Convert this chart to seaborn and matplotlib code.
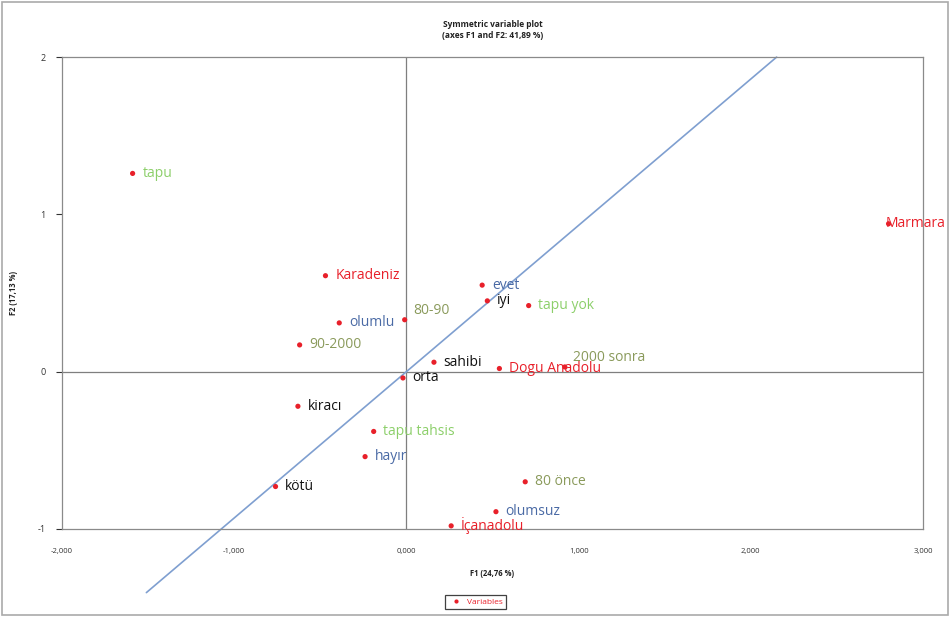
import matplotlib
matplotlib.use("Agg")
import matplotlib.pyplot as plt
import seaborn as sns
import numpy as np
import pandas as pd
from matplotlib.ticker import FuncFormatter, FixedLocator

# ---- data ----
labels = ["tapu", "Marmara", "Karadeniz", "evet", "iyi", "tapu yok", "olumlu", "80-90",
          "90-2000", "sahibi", "2000 sonra", "Dogu Anadolu", "orta", "kiracı",
          "tapu tahsis", "hayır", "kötü", "80 önce", "olumsuz", "İçanadolu"]
f1 = [-1.59, 2.80, -0.47, 0.44, 0.47, 0.71, -0.39, -0.01,
      -0.62, 0.16, 0.92, 0.54, -0.02, -0.63,
      -0.19, -0.24, -0.76, 0.69, 0.52, 0.26]
f2 = [1.26, 0.94, 0.61, 0.55, 0.45, 0.42, 0.31, 0.33,
      0.17, 0.06, 0.03, 0.02, -0.04, -0.22,
      -0.38, -0.54, -0.73, -0.70, -0.89, -0.98]
groups = ["tapu", "region", "region", "answer", "state", "tapu", "answer", "period",
          "period", "state", "period", "region", "state", "state",
          "tapu", "answer", "state", "period", "answer", "region"]
line_x = [-1.51, 2.15]
line_slope = 0.93
x_ticks = [-2, -1, 0, 1, 2, 3]
y_ticks = [-1, 0, 1, 2]
title = "Symmetric variable plot\n(axes F1 and F2: 41,89 %)"
xlabel = "F1 (24,76 %)"
ylabel = "F2 (17,13 %)"

# ---- style ----
group_colors = {"region": "#e8202a", "tapu": "#8ccf6a", "period": "#8a9a5b",
                "answer": "#4a6aa5", "state": "#111111"}
label_offsets = {"2000 sonra": (6, 7), "Marmara": (-2, 0), "80-90": (6, 7)}

sns.set_theme(style="white")
plt.rcParams["font.family"] = ["Open Sans", "DejaVu Sans"]

fig = plt.figure(figsize=(9.5, 6.17), dpi=100)
ax = fig.add_axes([62/950, 1-529/617, (923-62)/950, (529-57)/617])

df = pd.DataFrame({"F1": f1, "F2": f2, "label": labels, "group": groups})

ax.axhline(0, color="#7f7f7f", lw=0.9, zorder=1)
ax.axvline(0, color="#7f7f7f", lw=0.9, zorder=1)

lx = np.array(line_x)
ax.plot(lx, line_slope * lx, color="#7f9fd0", lw=1.2, clip_on=False, zorder=2)

sns.scatterplot(data=df, x="F1", y="F2", color="#e8202a", s=14, edgecolor="none",
                ax=ax, label="Variables", zorder=3, clip_on=False)

for _, r in df.iterrows():
    off = label_offsets.get(r["label"], (7, 0))
    ax.annotate(r["label"], (r["F1"], r["F2"]), xytext=off, textcoords="offset points",
                ha="left", va="center", fontsize=10, color=group_colors[r["group"]],
                annotation_clip=False, zorder=4)

ax.set_xlim(-2, 3)
ax.set_ylim(-1, 2)
ax.xaxis.set_major_locator(FixedLocator(x_ticks))
ax.yaxis.set_major_locator(FixedLocator(y_ticks))
ax.xaxis.set_major_formatter(FuncFormatter(lambda v, p: f"{v:.3f}".replace(".", ",")))
ax.yaxis.set_major_formatter(FuncFormatter(lambda v, p: f"{int(v)}"))
ax.tick_params(axis="x", length=0, pad=14, labelsize=5.5, colors="#333333")
ax.tick_params(axis="y", length=4, width=0.8, direction="out", pad=8, labelsize=6.5,
               colors="#333333", left=True)
for sp in ax.spines.values():
    sp.set_color("#8a8a8a")
    sp.set_linewidth(0.9)

ax.set_xlabel(xlabel, fontsize=5.5, fontweight="bold", labelpad=10, color="#222222")
ax.set_ylabel(ylabel, fontsize=5.5, fontweight="bold", labelpad=14, color="#222222")
ax.set_title(title, fontsize=6, fontweight="bold", pad=14, color="#222222")

leg = ax.legend(loc="upper center", bbox_to_anchor=(0.48, -0.13), fontsize=6,
                frameon=True, fancybox=False, edgecolor="#111111", handletextpad=0.2,
                borderpad=0.4, markerscale=0.8)
for t in leg.get_texts():
    t.set_color("#e8202a")
leg.get_frame().set_linewidth(0.9)

fig.patches.append(plt.Rectangle((0.002, 0.003), 0.996, 0.994, transform=fig.transFigure,
                                 fill=False, edgecolor="#aaaaaa", lw=1.2))

fig.savefig("out.png", dpi=100)
